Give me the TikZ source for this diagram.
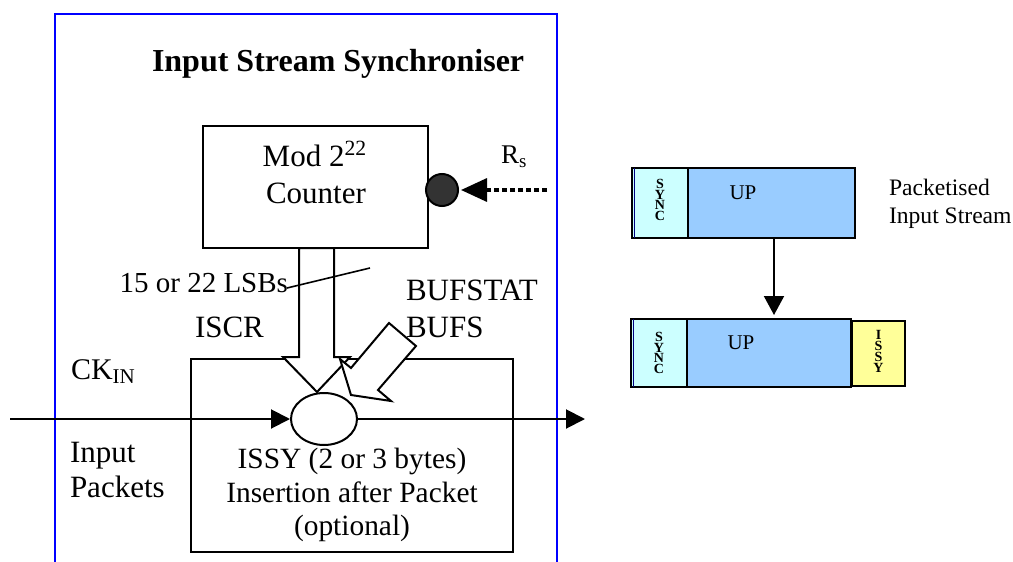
\documentclass[tikz,border=0pt]{standalone}
\usepackage{fontspec}
\setmainfont{Liberation Serif}
\usetikzlibrary{arrows.meta,shapes.geometric}
\definecolor{syncc}{HTML}{CCFFFF}
\definecolor{upc}{HTML}{99CCFF}
\definecolor{issyc}{HTML}{FFFF99}
\definecolor{dotc}{HTML}{333333}
\definecolor{frameblue}{HTML}{0000FF}
\definecolor{navyline}{HTML}{000080}
\newcommand\fsz[1]{\fontsize{#1}{#1}\selectfont}
\begin{document}
\begin{tikzpicture}[x=0.5pt,y=-0.5pt,line width=1pt,
  box/.style={draw,line width=1pt,inner sep=0pt},
  lbl/.style={inner sep=0pt,anchor=base west,font=\fsz{15.5}},
  clbl/.style={inner sep=0pt,anchor=base,font=\fsz{15.5}},
  issytxt/.style={inner sep=0pt,anchor=base,font=\fsz{14.7}},
  small/.style={inner sep=0pt,anchor=base west,font=\fsz{11.8}},
  uptxt/.style={inner sep=0pt,font=\fsz{10.5}},
  vletters/.style={inner sep=0pt,align=center,font=\bfseries\fontsize{7}{5.4}\selectfont},
  fatarrow/.style={draw,fill=white,line width=1pt},
  tip/.style={-{Triangle[length=9.5pt,width=9.5pt]}}]
\useasboundingbox (0,0) rectangle (1013,562);
% outer blue frame
\draw[frameblue,line width=1pt] (55,562) -- (55,14) -- (557,14) -- (557,562);
\node[inner sep=0pt,anchor=base west,font=\bfseries\fsz{16}] (title) at (151,71) {Input Stream Synchroniser};
% counter
\node[box,minimum width=112.5pt,minimum height=61pt] (counter) at (315.5,187) {};
\node[clbl] (modt) at (315,166) {Mod 2\textsuperscript{22}};
\node[clbl] (ctrt) at (316,203) {Counter};
% Rs input
\node[draw,circle,fill=dotc,minimum size=16pt,inner sep=0pt] (dot) at (442,190) {};
\node[inner sep=0pt,anchor=base west,font=\fsz{13.5}] (rs) at (500,163) {R\textsubscript{s}};
\coordinate (rsin) at (547,190);
\draw[line width=1.7pt,dash pattern=on 2.5pt off 1.5pt,shorten >=1pt,
  -{Triangle[length=13pt,width=11.5pt]}] (rsin) -- (dot);
% insertion box
\node[box,minimum width=161pt,minimum height=96.5pt] (issybox) at (352,455.5) {};
% fat arrows
\draw[fatarrow] (299,248) -- (299,357) -- (283,357) -- (317,392) -- (350,357) -- (334,357) -- (334,248) -- cycle;
\draw[fatarrow] (389,323) -- (416,346) -- (378,390) -- (391,401) -- (351,395) -- (340,359) -- (351,368) -- cycle;
% ellipse
\node[draw,ellipse,fill=white,minimum width=33pt,minimum height=26pt,inner sep=0pt] (ell) at (324,419) {};
% labels
\node[inner sep=0pt,anchor=base east,font=\fsz{14.5}] (lsb) at (289,292) {15 or 22 LSBs};
\coordinate (sl1) at (287,288);
\coordinate (sl2) at (370,268);
\draw[line width=0.8pt] (sl1) -- (sl2);
\node[lbl] (iscr) at (194,337) {ISCR};
\node[lbl] (bufstat) at (405,300) {BUFSTAT};
\node[lbl] (bufs) at (405,337) {BUFS};
\node[lbl,font=\fsz{15}] (ckin) at (70,379) {CK\textsubscript{IN}};
\node[lbl] (inp1) at (69,462) {Input};
\node[lbl] (inp2) at (69,497) {Packets};
\node[issytxt] (is1) at (352,468) {ISSY (2 or 3 bytes)};
\node[issytxt] (is2) at (352,502) {Insertion after Packet};
\node[issytxt] (is3) at (352,535) {(optional)};
% main stream line
\coordinate (inL) at (10,419);
\coordinate (outR) at (585,419);
\draw[tip] (inL) -- (ell.west);
\draw[tip] (ell.east) -- (outR);
% packets on the right
\node[box,fill=upc,minimum width=111.5pt,minimum height=35pt] (pk1) at (743.5,203) {};
\node[box,fill=syncc,minimum width=28pt,minimum height=35pt,anchor=west] (sync1) at (pk1.west) {};
\draw[navyline,line width=0.7pt] ([xshift=1.6pt,yshift=-0.5pt]pk1.north west) -- ([xshift=1.6pt,yshift=0.5pt]pk1.south west);
\node[vletters] (s1t) at ([yshift=1.5pt]sync1.center) {S\\Y\\N\\C};
\node[uptxt] (up1t) at (743,193) {UP};
\node[small] (pst1) at (888,195) {Packetised};
\node[small] (pst2) at (888,223) {Input Stream};
\node[box,fill=upc,minimum width=110pt,minimum height=34pt] (pk2) at (741,353) {};
\node[box,fill=syncc,minimum width=28pt,minimum height=34pt,anchor=west] (sync2) at (pk2.west) {};
\draw[navyline,line width=0.7pt] ([xshift=1.6pt,yshift=-0.5pt]pk2.north west) -- ([xshift=1.6pt,yshift=0.5pt]pk2.south west);
\node[vletters] (s2t) at (sync2.center) {S\\Y\\N\\C};
\node[uptxt] (up2t) at (741,343) {UP};
\node[box,fill=issyc,minimum width=26.5pt,minimum height=32.5pt] (issy2) at (878.5,353.5) {};
\node[vletters] (i2t) at ([yshift=1pt]issy2.center) {I\\S\\S\\Y};
\coordinate (arrx) at (774,0);
\draw[-{Triangle[length=9.5pt,width=10pt]}] (pk1.south -| arrx) -- ([yshift=1.5pt]pk2.north -| arrx);
\end{tikzpicture}
\end{document}
